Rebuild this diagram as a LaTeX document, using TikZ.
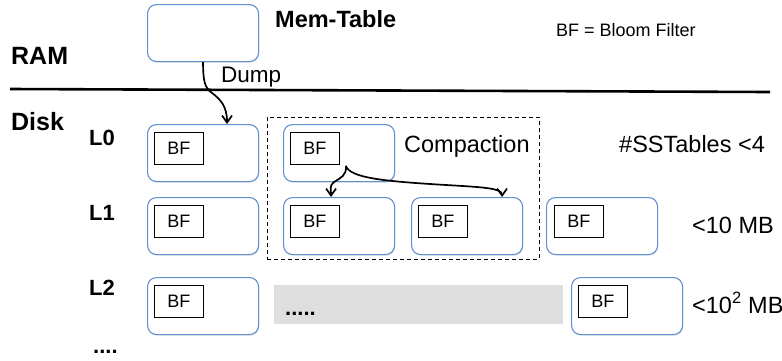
\documentclass[tikz,border=0pt]{standalone}
\usepackage{fontspec}
\setmainfont{Liberation Sans}
\usetikzlibrary{arrows.meta,shadows}
\definecolor{boxblue}{RGB}{96,146,208}
\definecolor{graybar}{RGB}{222,222,222}
\newcommand{\fs}[1]{\fontsize{#1}{#1}\selectfont}
\begin{document}
\begin{tikzpicture}[x=1pt,y=-1pt,
  sstable/.style={draw=boxblue,line width=1.1pt,rounded corners=9pt,fill=white,
    minimum width=111pt,minimum height=57pt,inner sep=0pt,anchor=north west,
    drop shadow={shadow xshift=0.8pt,shadow yshift=-1.2pt,opacity=0.18}},
  bfbox/.style={draw=black,line width=0.9pt,minimum width=49pt,minimum height=32pt,
    inner sep=0pt,anchor=north west,font=\fs{18}},
  lbl/.style={anchor=base west,inner sep=0pt},
  bigbold/.style={lbl,font=\fs{25}\bfseries},
  lvl/.style={lbl,font=\fs{22}\bfseries},
  txt/.style={lbl,font=\fs{23.5}},
  conn/.style={line width=1.7pt,-{Straight Barb[length=7pt,width=10pt,line width=1.7pt]}}
]
\useasboundingbox (0,0) rectangle (782,360);

% separator line
\coordinate (sepL) at (10,89);
\coordinate (sepR) at (770,92);
\draw[line width=2.6pt] (sepL) -- (sepR);

% labels
\node[bigbold] (ram) at (11,64) {RAM};
\node[bigbold] (disk) at (11,130) {Disk};
\node[lbl,font=\fs{23.5}\bfseries] (memlbl) at (275,27) {Mem-Table};
\node[lbl,font=\fs{18}] (legend) at (556,36) {BF = Bloom Filter};
\node[lbl,font=\fs{22.5}] (dump) at (221,82) {Dump};
\node[lvl] (l0) at (89,145) {L0};
\node[lvl] (l1) at (89,220) {L1};
\node[lvl] (l2) at (89,295) {L2};
\node[lvl] (more) at (93,353) {....};
\node[txt] (compl) at (404,152) {Compaction};
\node[txt] (cnt) at (619,152) {\#SSTables <4};
\node[txt] (sz1) at (692,233) {<10 MB};
\node[txt] (sz2) at (692,313) {<10\textsuperscript{2} MB};

% compaction frame
\node[draw,line width=0.9pt,dash pattern=on 4pt off 3pt,anchor=north west,
  minimum width=272pt,minimum height=142pt,inner sep=0pt] (frame) at (267,117) {};

% gray bar
\node[fill=graybar,anchor=north west,minimum width=289pt,minimum height=39pt,inner sep=0pt] (bar) at (274,285) {};
\node[lbl,font=\fs{22}\bfseries] (dots) at (285,315) {.....};

% mem-table
\node[sstable] (mem) at (147,4) {};

% L0
\node[sstable] (a0) at (147,124) {};
\node[bfbox] (bfa0) at (154,132) {BF};
\node[sstable] (b0) at (283,124) {};
\node[bfbox] (bfb0) at (290,132) {BF};

% L1
\node[sstable] (a1) at (147,197) {};
\node[bfbox] (bfa1) at (154,205) {BF};
\node[sstable] (b1) at (283,197) {};
\node[bfbox] (bfb1) at (290,205) {BF};
\node[sstable] (c1) at (411,197) {};
\node[bfbox] (bfc1) at (418,205) {BF};
\node[sstable] (d1) at (546,197) {};
\node[bfbox] (bfd1) at (554,205) {BF};

% L2
\node[sstable] (a2) at (147,277) {};
\node[bfbox] (bfa2) at (154,285) {BF};
\node[sstable] (e2) at (571,277) {};
\node[bfbox] (bfe2) at (578,285) {BF};

% dump arrow
\draw[conn] (mem.south) .. controls +(0,20) and +(-7,-5) .. ([xshift=9pt,yshift=31pt]a0.north)
  .. controls +(8,6) and +(0,-18) .. ([xshift=24pt]a0.north);

% compaction arrows
\coordinate (cs) at ([xshift=6pt,yshift=-1pt]bfb0.south east);
\draw[conn] (cs) .. controls +(1,10) and +(6,-4) .. ([xshift=-5pt,yshift=15pt]b1.north)
  .. controls +(-5,4) and +(0,-8) .. ([xshift=-8pt]b1.north);
\draw[conn] (cs) .. controls +(4,12) and +(-45,-3) .. ([xshift=-37pt,yshift=13pt]c1.north)
  .. controls +(45,3) and +(0,-10) .. ([xshift=35pt]c1.north);

\end{tikzpicture}
\end{document}
